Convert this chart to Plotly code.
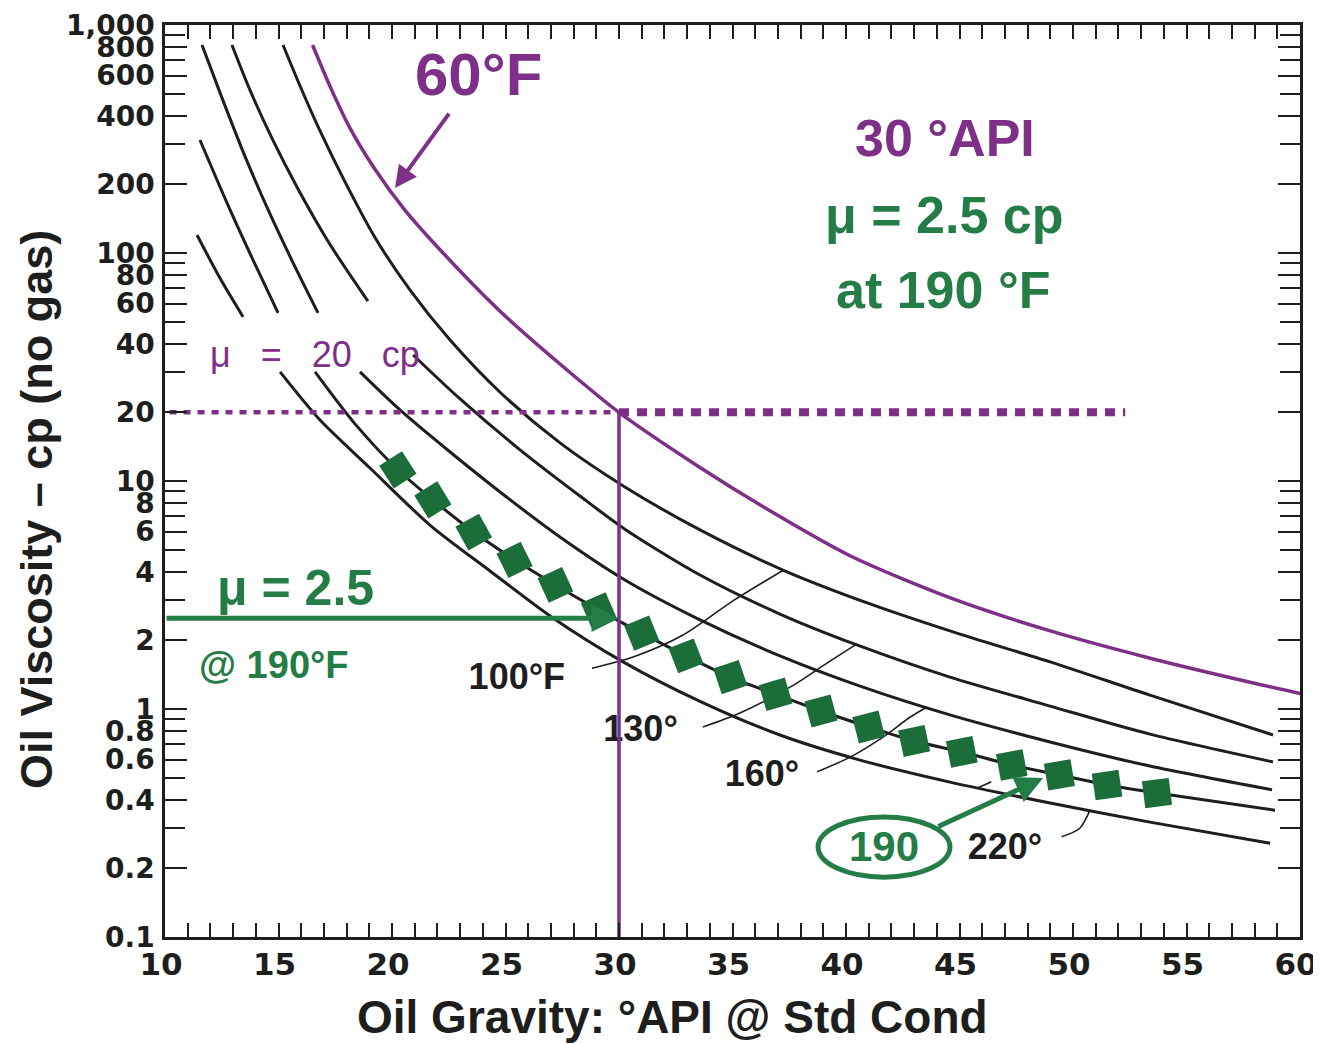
import numpy as np
import plotly.graph_objects as go

# ---------------- data ----------------
# 60 degF isotherm (purple)
api_60 = [16.5, 17.3, 18.15, 19.25, 20.55, 22.25, 24.75, 27.4, 30.0, 33.55, 36.9, 40.2, 44.6, 49.0, 53.4, 57.8, 60.0]
mu_60 = [817, 530, 353, 233, 155, 100, 55.7, 32.6, 20, 11.5, 7.16, 4.69, 3.07, 2.20, 1.67, 1.31, 1.17]

# 100 degF
api_100 = [15.2, 15.95, 16.83, 17.93, 19.25, 20.79, 22.56, 24.76, 27.4, 30.26, 33.57, 37.22, 41.06, 45.02, 48.99, 53.39, 58.81]
mu_100 = [817, 540, 343, 205, 117, 68.9, 41.5, 24.5, 14.7, 9.42, 6.10, 4.07, 2.89, 2.13, 1.61, 1.15, 0.769]

# 130 degF (broken where the "mu = 20 cp" label sits)
api_130 = [12.95, 13.74, 14.71, 15.86, 17.27, 18.94, None, 20.93, 23.0, 25.64, 28.28, 30.26, 33.57, 37.09, 40.48, 44.58, 48.99, 53.39, 58.81]
mu_130 = [817, 519, 319, 191, 109, 61.5, None, 35.7, 22.9, 13.7, 8.59, 6.15, 3.87, 2.61, 1.91, 1.38, 1.03, 0.776, 0.586]

# 160 degF
api_160 = [11.63, 12.51, 13.52, 14.63, 15.73, 16.74, None, 18.59, 20.35, 22.56, 24.76, 27.4, 30.26, 33.57, 37.09, 40.62, 44.58, 48.99, 53.39, 58.77]
mu_160 = [817, 479, 266, 148, 86.9, 54.6, None, 30.1, 20.5, 13.4, 8.95, 5.68, 3.68, 2.46, 1.71, 1.26, 0.942, 0.717, 0.562, 0.442]

# 190 degF squares (highlighted isotherm)
sq_api = [20.26, 21.8, 23.6, 25.4, 27.2, 29.1, 31.0, 32.95, 34.9, 36.9, 38.9, 41.0, 43.0, 45.1, 47.3, 49.4, 51.5, 53.7]
sq_mu = [11.2, 8.26, 5.97, 4.51, 3.50, 2.72, 2.15, 1.71, 1.38, 1.16, 0.98, 0.834, 0.724, 0.648, 0.568, 0.514, 0.464, 0.428]

# 190 degF curve
api_190 = [11.54, 12.73, 13.88, 14.98, None, 16.61, 18.37] + sq_api + [58.9]
mu_190 = [313, 166, 93.1, 54.6, None, 30.1, 17.8] + sq_mu + [0.36]

# 220 degF
api_220 = [11.41, 12.42, 13.44, None, 15.07, 16.83, 19.03, 21.67, 24.32, 26.96, 30.18, 33.57, 37.09, 40.62, 44.58, 48.99, 53.39, 58.68]
mu_220 = [120, 77.6, 52.4, None, 30.1, 18.5, 11.4, 6.41, 4.03, 2.56, 1.61, 1.08, 0.769, 0.597, 0.478, 0.387, 0.319, 0.258]

# thin leader lines tying the temperature labels to their curves
lead100_api = [28.81, 30.62, 32.82, 35.02, 37.22]
lead100_mu = [1.51, 1.69, 2.11, 2.98, 4.05]
lead130_api = [33.70, 35.33, 37.67, 39.16, 40.48]
lead130_mu = [0.834, 0.96, 1.27, 1.59, 1.93]
lead160_api = [38.72, 40.18, 41.63, 42.82, 43.57]
lead160_mu = [0.53, 0.615, 0.753, 0.92, 1.02]
lead190_api = [45.8, 46.4]
lead190_mu = [0.45, 0.48]
lead220_api = [49.5, 50.3, 50.75]
lead220_mu = [0.275, 0.30, 0.36]

# worked example: 30 API, 60F -> 20 cp ; 190F -> 2.5 cp
ex_api = 30.0
ex_mu_60 = 20.0
ex_mu_190 = 2.5
dotted_api = [10.2, 52.3]

# axis ticks
y_tickvals = [1000, 800, 600, 400, 200, 100, 80, 60, 40, 20, 10, 8, 6, 4, 2, 1, 0.8, 0.6, 0.4, 0.2, 0.1]
y_ticktext = ["1,000", "800", "600", "400", "200", "100", "80", "60", "40", "20", "10", "8", "6", "4", "2", "1",
              "0.8", "0.6", "0.4", "0.2", "0.1"]
y_minor = [900, 700, 500, 300, 90, 70, 50, 30, 9, 7, 5, 3, 0.9, 0.7, 0.5, 0.3]
x_tickvals = [10, 15, 20, 25, 30, 35, 40, 45, 50, 55, 60]
x_minor = [v for v in range(11, 60) if v % 5 != 0]

# ---------------- styles ----------------
FONT = "Liberation Sans, Arial, sans-serif"
TICKFONT = "DejaVu Sans, Verdana, sans-serif"
INK = "#1e1e1e"
PURPLE = "#7e2f87"
GREEN = "#247c46"
SQGREEN = "#1b6d3a"
ly = np.log10

fig = go.Figure()

def line(x, y, color=INK, width=3):
    fig.add_trace(go.Scatter(x=x, y=y, mode="lines", connectgaps=False, hoverinfo="skip", showlegend=False,
                             line=dict(color=color, width=width, shape="spline", smoothing=0.8)))

for la, lm in [(lead100_api, lead100_mu), (lead130_api, lead130_mu), (lead160_api, lead160_mu),
               (lead190_api, lead190_mu), (lead220_api, lead220_mu)]:
    line(la, lm, width=1.6)

for a, m in [(api_100, mu_100), (api_130, mu_130), (api_160, mu_160), (api_190, mu_190), (api_220, mu_220)]:
    line(a, m, width=3)
line(api_60, mu_60, color=PURPLE, width=3.5)

# temperature labels (drawn before the vertical line so it passes over them)
for txt, a, m in [("100°F", 25.5, 10 ** 0.127), ("130°", 30.95, 10 ** -0.101),
                  ("160°", 36.3, 10 ** -0.298), ("220°", 47.0, 10 ** -0.618)]:
    fig.add_trace(go.Scatter(x=[a], y=[m], mode="text", text=[txt], hoverinfo="skip", showlegend=False,
                             textfont=dict(family=FONT, size=36, color=INK, weight="bold")))

# dotted 20 cp line (finer left of the 30 API line, heavier to the right) and vertical 30 API line
fig.add_trace(go.Scatter(x=[dotted_api[0], ex_api], y=[ex_mu_60, ex_mu_60], mode="lines", hoverinfo="skip",
                         showlegend=False, line=dict(color=PURPLE, width=4.5, dash="7px,7px")))
fig.add_trace(go.Scatter(x=[ex_api, dotted_api[1]], y=[ex_mu_60, ex_mu_60], mode="lines", hoverinfo="skip",
                         showlegend=False, line=dict(color=PURPLE, width=8, dash="10px,8px")))
fig.add_trace(go.Scatter(x=[ex_api, ex_api], y=[ex_mu_60, 0.1], mode="lines", hoverinfo="skip", showlegend=False,
                         line=dict(color=PURPLE, width=3.5)))

# squares on the 190 F curve, turned to follow the curve
sa = np.array(sq_api)
sm = np.log10(np.array(sq_mu))
px_per_api = 1135 / 50.0
px_per_dec = 912 / 4.0
ang = np.degrees(np.arctan2(-np.gradient(sm) * px_per_dec, np.gradient(sa) * px_per_api))
fig.add_trace(go.Scatter(x=sq_api, y=sq_mu, mode="markers", hoverinfo="skip", showlegend=False,
                         marker=dict(symbol="square", size=27, color=SQGREEN, angle=-0.8 * ang,
                                     line=dict(width=0))))

ann = []
def text(t, a, lm, size, color, bold=True, xanchor="center"):
    ann.append(dict(x=a, y=lm, xref="x", yref="y", text=t, showarrow=False, xanchor=xanchor, yanchor="middle",
                    font=dict(family=FONT, size=size, color=color, weight="bold" if bold else "normal")))

NB = "\u00a0"
text("60°F", 23.8, 2.781, 60, PURPLE)
text("30 °API", 44.36, 2.504, 52, PURPLE)
text("μ = 2.5 cp", 44.36, 2.167, 52, GREEN)
text("at 190 °F", 44.27, 1.838, 52, GREEN)
text("μ" + NB * 3 + "=" + NB * 3 + "20" + NB * 3 + "cp", 16.6, 1.553, 36, PURPLE, bold=False)
text("μ = 2.5", 12.2, 0.531, 50, GREEN, xanchor="left")
text("@ 190°F", 11.41, 0.193, 38, GREEN, xanchor="left")
text("190", 41.67, -0.605, 42, GREEN)

def arrow(x0, y0, x1, y1, color, width):
    ann.append(dict(x=x1, y=y1, ax=x0, ay=y0, xref="x", yref="y", axref="x", ayref="y", text="",
                    showarrow=True, arrowhead=2, arrowsize=1.1, arrowwidth=width, arrowcolor=color))

arrow(22.56, 2.618, 20.13, 2.285, PURPLE, 4)
arrow(10.0, ly(ex_mu_190), ex_api, ly(ex_mu_190), GREEN, 5)
arrow(44.0, -0.518, 48.68, -0.303, GREEN, 5)

# axis titles
ann.append(dict(x=0.447, y=-0.088, xref="paper", yref="paper", text="Oil Gravity: °API @ Std Cond",
                showarrow=False, xanchor="center", yanchor="middle",
                font=dict(family=FONT, size=46, color=INK, weight="bold")))
ann.append(dict(x=-0.113, y=0.469, xref="paper", yref="paper", text="Oil Viscosity – cp (no gas)",
                showarrow=False, xanchor="center", yanchor="middle", textangle=-90,
                font=dict(family=FONT, size=45, color=INK, weight="bold")))

shapes = [dict(type="circle", xref="x", yref="y", x0=38.77, x1=44.58, y0=0.183, y1=0.336,
               line=dict(color=GREEN, width=5), layer="above")]

# the page body adds an 8 px margin, so the figure is sized to the window minus that offset
fig.update_layout(
    width=1313, height=1036,
    margin=dict(l=157, r=21, t=17, b=107, autoexpand=False),
    paper_bgcolor="white", plot_bgcolor="white",
    showlegend=False,
    annotations=ann, shapes=shapes,
    xaxis=dict(range=[10, 60], tickvals=x_tickvals, ticktext=[str(v) for v in x_tickvals],
               ticks="inside", ticklen=14, tickwidth=2, tickcolor=INK, automargin=False,
               showline=True, linewidth=2.5, linecolor=INK, mirror="ticks",
               showgrid=False, zeroline=False, ticklabeloverflow="allow",
               ticklabelshift=-4, ticklabelstandoff=-2,
               tickfont=dict(family=TICKFONT, size=31, color=INK, weight="bold"),
               minor=dict(tickvals=x_minor, ticks="inside", ticklen=14, tickwidth=2, tickcolor=INK, showgrid=False)),
    yaxis=dict(type="log", range=[-1, 3], tickvals=y_tickvals, ticktext=y_ticktext,
               ticks="inside", ticklen=22, tickwidth=2, tickcolor=INK, automargin=False,
               showline=True, linewidth=2.5, linecolor=INK, mirror="ticks",
               showgrid=False, zeroline=False, ticklabelstandoff=2,
               tickfont=dict(family=TICKFONT, size=28, color=INK, weight="bold"),
               minor=dict(tickvals=y_minor, ticks="inside", ticklen=20, tickwidth=2, tickcolor=INK, showgrid=False)),
)

fig.write_html("out.html")
